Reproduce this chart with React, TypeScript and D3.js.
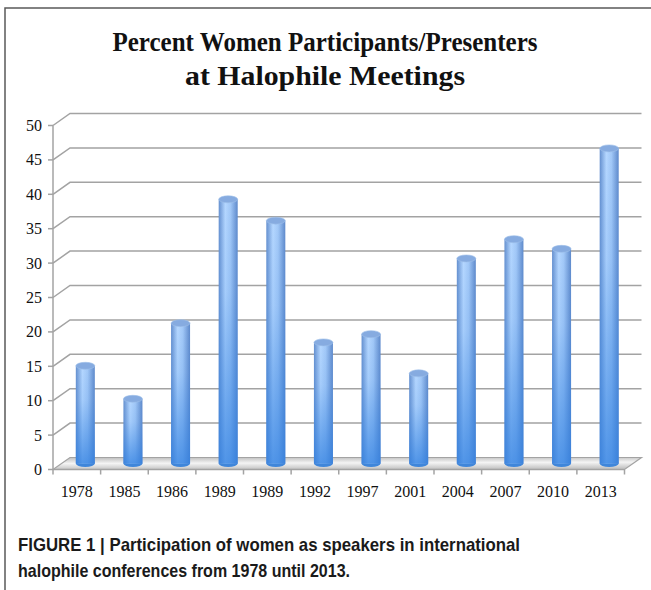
import { useRef, useEffect } from 'react'
import * as d3 from 'd3'

const years = ['1978', '1985', '1986', '1989', '1989', '1992', '1997', '2001', '2004', '2007', '2010', '2013']
const percents = [14.2, 9.4, 20.4, 38.4, 35.3, 17.6, 18.8, 13.1, 29.8, 32.6, 31.2, 45.8]
const yTicks = [0, 5, 10, 15, 20, 25, 30, 35, 40, 45, 50]
const titleLines = ['Percent Women Participants/Presenters', 'at Halophile Meetings']
const titleWidths = [425, 280]
const captionLines = [
  'FIGURE 1 | Participation of women as speakers in international',
  'halophile conferences from 1978 until 2013.',
]
const captionWidths = [502, 332]

function App() {
  const ref = useRef<SVGSVGElement>(null)

  useEffect(() => {
    const svg = d3.select(ref.current)
    svg.selectAll('*').remove()

    const left = 53, right = 624.5
    const dx = 17, dy = -12
    const barW = 19

    const x = d3.scaleBand<number>()
      .domain(years.map((_, i) => i))
      .range([left, right])
    const y = d3.scaleLinear().domain([0, 50]).range([469.5, 125.5])

    const defs = svg.append('defs')
    const body = defs.append('linearGradient').attr('id', 'barBody')
      .attr('x1', 0).attr('x2', 1).attr('y1', 0).attr('y2', 0)
    body.append('stop').attr('offset', '0%').attr('stop-color', '#6590cf')
    body.append('stop').attr('offset', '35%').attr('stop-color', '#b5d7ff')
    body.append('stop').attr('offset', '62%').attr('stop-color', '#a2c8f7')
    body.append('stop').attr('offset', '100%').attr('stop-color', '#5f8acb')

    // darker, more saturated blue toward the foot of each bar
    const shade = defs.append('linearGradient').attr('id', 'barShade')
      .attr('x1', 0).attr('x2', 0).attr('y1', 0).attr('y2', 1)
    shade.append('stop').attr('offset', '0%').attr('stop-color', '#2f7fe0').attr('stop-opacity', 0)
    shade.append('stop').attr('offset', '35%').attr('stop-color', '#2f7fe0').attr('stop-opacity', 0.12)
    shade.append('stop').attr('offset', '100%').attr('stop-color', '#2f7fe0').attr('stop-opacity', 0.75)

    const floorG = defs.append('linearGradient').attr('id', 'floor')
      .attr('x1', 0).attr('x2', 0.12).attr('y1', 0).attr('y2', 1)
      .attr('spreadMethod', 'reflect')
    floorG.append('stop').attr('offset', '0%').attr('stop-color', '#bdbdbd')
    floorG.append('stop').attr('offset', '50%').attr('stop-color', '#f4f4f4')
    floorG.append('stop').attr('offset', '100%').attr('stop-color', '#c4c4c4')

    // frame
    svg.append('path').attr('d', 'M5,590 L5,8 L651,8')
      .attr('fill', 'none').attr('stroke', '#5a5a5a').attr('stroke-width', 1.5)

    // title
    svg.append('g').selectAll('text').data(titleLines).enter().append('text')
      .attr('x', 325).attr('y', (_, i) => 51 + i * 34)
      .attr('text-anchor', 'middle')
      .attr('textLength', (_, i) => titleWidths[i])
      .attr('lengthAdjust', 'spacingAndGlyphs')
      .style('font', 'bold 28px "Liberation Serif", serif')
      .attr('fill', '#111')
      .text(d => d)

    // gridlines on the back wall
    svg.append('g').selectAll('path').data(yTicks.filter(t => t > 0)).enter().append('path')
      .attr('d', t => `M${left},${y(t)} L${left + dx},${y(t) + dy} L${right + dx},${y(t) + dy}`)
      .attr('fill', 'none').attr('stroke', '#a3a3a3').attr('stroke-width', 1.5)

    // floor
    const y0 = y(0)
    svg.append('path')
      .attr('d', `M${left},${y0} L${left + dx},${y0 + dy} L${right + dx},${y0 + dy} L${right},${y0} Z`)
      .attr('fill', 'url(#floor)').attr('stroke', '#a3a3a3').attr('stroke-width', 1.2)

    // y axis
    svg.append('line').attr('x1', left).attr('x2', left).attr('y1', y(50)).attr('y2', y0)
      .attr('stroke', '#a3a3a3').attr('stroke-width', 1.5)
    svg.append('g').selectAll('line').data(yTicks).enter().append('line')
      .attr('x1', left - 5).attr('x2', left).attr('y1', t => y(t)).attr('y2', t => y(t))
      .attr('stroke', '#a3a3a3').attr('stroke-width', 1.5)
    svg.append('g').selectAll('text').data(yTicks).enter().append('text')
      .attr('x', 42).attr('y', t => y(t) + 5.5)
      .attr('text-anchor', 'end')
      .style('font', '16px "Liberation Serif", serif')
      .attr('fill', '#111')
      .text(t => t)

    // x axis
    svg.append('line').attr('x1', left).attr('x2', right).attr('y1', y0).attr('y2', y0)
      .attr('stroke', '#a3a3a3').attr('stroke-width', 1.5)
    const bounds = years.map((_, i) => x(i) as number).concat([right])
    svg.append('g').selectAll('line').data(bounds).enter().append('line')
      .attr('x1', d => d).attr('x2', d => d).attr('y1', y0).attr('y2', y0 + 5)
      .attr('stroke', '#a3a3a3').attr('stroke-width', 1.5)
    svg.append('g').selectAll('text').data(years).enter().append('text')
      .attr('x', (_, i) => (x(i) as number) + x.bandwidth() / 2)
      .attr('y', 497)
      .attr('text-anchor', 'middle')
      .style('font', '16px "Liberation Serif", serif')
      .attr('fill', '#111')
      .text(d => d)

    // cylinders
    const bars = svg.append('g').selectAll('g').data(percents).enter().append('g')
    const cx = (i: number) => (x(i) as number) + x.bandwidth() / 2 + dx / 2
    const baseY = y0 + dy / 2
    bars.append('ellipse')
      .attr('cx', (_, i) => cx(i)).attr('cy', baseY)
      .attr('rx', barW / 2).attr('ry', 3.5)
      .attr('fill', '#3f86da')
    bars.append('rect')
      .attr('x', (_, i) => cx(i) - barW / 2).attr('width', barW)
      .attr('y', d => y(d) + dy / 2).attr('height', d => baseY - (y(d) + dy / 2))
      .attr('fill', 'url(#barBody)')
    bars.append('rect')
      .attr('x', (_, i) => cx(i) - barW / 2).attr('width', barW)
      .attr('y', d => y(d) + dy / 2).attr('height', d => baseY - (y(d) + dy / 2))
      .attr('fill', 'url(#barShade)')
    bars.append('ellipse')
      .attr('cx', (_, i) => cx(i)).attr('cy', d => y(d) + dy / 2)
      .attr('rx', barW / 2).attr('ry', 3.5)
      .attr('fill', '#86abe0').attr('stroke', '#9dbfea').attr('stroke-width', 0.6)

    // caption
    svg.append('g').selectAll('text').data(captionLines).enter().append('text')
      .attr('x', 18).attr('y', (_, i) => 551 + i * 26)
      .attr('textLength', (_, i) => captionWidths[i])
      .attr('lengthAdjust', 'spacingAndGlyphs')
      .style('font', 'bold 19px "Liberation Sans Narrow", "Liberation Sans", sans-serif')
      .attr('fill', '#1a1a1a')
      .text(d => d)
  }, [])

  return (
    <svg ref={ref} width={651} height={590}
      style={{ position: 'absolute', left: 0, top: 0, background: '#fff' }}>
    </svg>
  )
}

export default App
